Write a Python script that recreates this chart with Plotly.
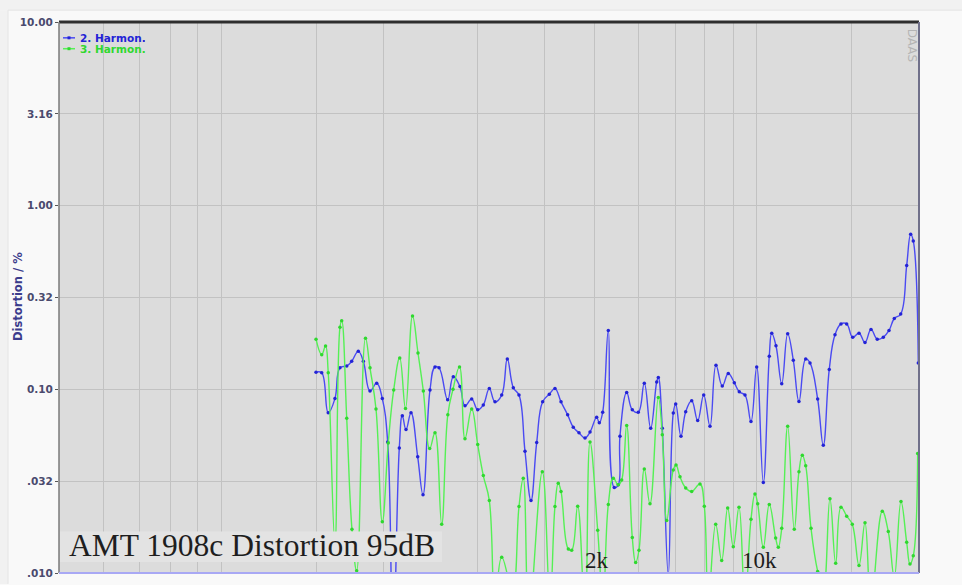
import plotly.graph_objects as go

# ---------------- data ----------------
# 2nd harmonic distortion (%), frequency in Hz
h2_freq = [127.5, 134.9, 143.9, 153.8, 161.6, 172.8, 181.5, 193.8, 203.7, 217.6,
           232.5, 245.8, 259.3, 273.3, 290.9, 299.7, 310.8, 326.6, 349, 367.9,
           394.2, 414.2, 431, 469.7, 496.5, 530.5, 557.5, 595.7, 632.3, 668.3,
           709.3, 750.5, 802, 847.7, 899.5, 951.7, 1010, 1072, 1134, 1203,
           1285, 1359, 1443, 1541, 1629, 1724, 1830, 1923, 2054, 2108,
           2180, 2305, 2445, 2544, 2587, 2765, 2923, 3101, 3292, 3507,
           3722, 3782, 3934, 4175, 4387, 4493, 4734, 4961, 5264, 5586,
           5929, 6310, 6696, 7125, 7563, 8027, 8433, 8925, 9469, 10020,
           10700, 11350, 11630, 12130, 12840, 13620, 14400, 15230, 16280, 16990,
           18330, 19380, 20560, 21760, 23090, 24430, 25930, 27600, 29290, 31090,
           33080, 35110, 37150, 39150, 41720, 44260, 46050, 47250, 49660]
h2_vals = [0.124, 0.123, 0.0746, 0.0891, 0.131, 0.134, 0.142, 0.161, 0.142, 0.098,
           0.108, 0.0891, 0.0516, 0.004, 0.048, 0.0719, 0.0604, 0.0746, 0.0429, 0.0267,
           0.0993, 0.1325, 0.131, 0.0877, 0.117, 0.1035, 0.0814, 0.0885, 0.0774, 0.0821,
           0.1009, 0.0855, 0.093, 0.1463, 0.1021, 0.093, 0.046, 0.0248, 0.0513, 0.0855,
           0.0941, 0.1009, 0.0855, 0.0726, 0.0622, 0.058, 0.0543, 0.0585, 0.0704, 0.0657,
           0.075, 0.209, 0.0292, 0.0302, 0.0556, 0.096, 0.0774, 0.075, 0.108, 0.0614,
           0.1096, 0.116, 0.0614, 0.0098, 0.0743, 0.0832, 0.0556, 0.0756, 0.0867, 0.0676,
           0.093, 0.063, 0.1353, 0.1043, 0.122, 0.1087, 0.0969, 0.093, 0.0668, 0.1325,
           0.0311, 0.1514, 0.202, 0.1727, 0.1074, 0.2005, 0.144, 0.0859, 0.1463, 0.1393,
           0.0885, 0.0496, 0.1284, 0.198, 0.227, 0.227, 0.192, 0.202, 0.180, 0.212,
           0.1875, 0.192, 0.209, 0.243, 0.257, 0.472, 0.698, 0.643, 0.1393]

# 3rd harmonic distortion (%), frequency in Hz
h3_freq = [127.5, 134.9, 140.1, 143.9, 153.8, 161.6, 164.4, 172.8, 182, 190.7,
           208.1, 217.6, 230.9, 245.8, 260.8, 275.2, 292.1, 309.3, 331.5, 350,
           369, 393, 414.2, 442.6, 470.2, 495, 528, 557.5, 595.7, 632.3,
           668.3, 709.3, 750.5, 802, 892.5, 951.7, 993, 1051, 1199, 1294,
           1359, 1404, 1443, 1551, 1604, 1702, 1830, 1923, 2075, 2187,
           2305, 2422, 2544, 2631, 2765, 2923, 3022, 3123, 3292, 3483,
           3782, 3934, 4110, 4387, 4507, 4688, 4961, 5264, 5715, 5964,
           6205, 6676, 7085, 7518, 7947, 8410, 8925, 9469, 9851, 10120,
           10700, 11350, 12090, 12410, 12840, 13620, 14540, 15230, 15740, 16280,
           17160, 18330, 19380, 20700, 21910, 23090, 24430, 25820, 27600, 29290,
           31090, 34760, 36890, 39150, 41830, 44260, 45730, 47250, 49340]
h3_vals = [0.1875, 0.1545, 0.1723, 0.123, 0.0144, 0.2178, 0.2365, 0.0695, 0.0173, 0.0103,
           0.19, 0.131, 0.0781, 0.019, 0.0511, 0.0993, 0.148, 0.0787, 0.2506, 0.1577,
           0.098, 0.0476, 0.058, 0.0184, 0.0726, 0.1, 0.1325, 0.0539, 0.0781, 0.05,
           0.0339, 0.0248, 0.007, 0.0122, 0.008, 0.023, 0.0328, 0.006, 0.0356, 0.007,
           0.023, 0.0308, 0.0278, 0.0135, 0.0133, 0.0231, 0.006, 0.0516, 0.0171, 0.007,
           0.0236, 0.0328, 0.0302, 0.0321, 0.0635, 0.0156, 0.0114, 0.0133, 0.0368, 0.0238,
           0.0902, 0.0566, 0.0193, 0.0364, 0.0387, 0.0334, 0.029, 0.0278, 0.0305, 0.0231,
           0.007, 0.0184, 0.0117, 0.0226, 0.0139, 0.0228, 0.007, 0.0196, 0.0269, 0.0238,
           0.0138, 0.0236, 0.0155, 0.0138, 0.0175, 0.063, 0.0173, 0.0356, 0.0438, 0.0384,
           0.0175, 0.0102, 0.008, 0.0254, 0.0113, 0.0228, 0.0204, 0.0184, 0.011, 0.0188,
           0.007, 0.0217, 0.0168, 0.0095, 0.0245, 0.0147, 0.0112, 0.0124, 0.0448]

y_tick_vals = [10, 3.16, 1.0, 0.316, 0.1, 0.0316, 0.01]
y_tick_text = ["10.00", "3.16", "1.00", "0.32", "0.10", ".032", ".010"]
x_grid_freqs = [15.6, 22.3, 30.3, 39.6, 50.2, 127.5, 247.5, 634, 1231, 2020,
                3093, 4462, 6005, 8003, 10050, 25500]
series_names = ["2. Harmon.", "3. Harmon."]
title_text = "AMT 1908c Distortion 95dB"
freq_labels = ["2k", "10k"]

BLUE_LINE, BLUE_MK = "#4a4af2", "#2323d6"
GREEN_LINE, GREEN_MK = "#55f055", "#2fd82f"

fig = go.Figure()
fig.add_trace(go.Scatter(
    x=h2_freq, y=h2_vals, mode="lines+markers", name=series_names[0],
    line=dict(color=BLUE_LINE, width=1.4, shape="spline", smoothing=1.2),
    marker=dict(color=BLUE_MK, size=3.5), showlegend=False))
fig.add_trace(go.Scatter(
    x=h3_freq, y=h3_vals, mode="lines+markers", name=series_names[1],
    line=dict(color=GREEN_LINE, width=1.4, shape="spline", smoothing=1.2),
    marker=dict(color=GREEN_MK, size=3.5), showlegend=False))

W, H = 962, 585
L, R, T, B = 59, 43, 22, 6
PW, PH = W - L - R, H - T - B

def dx(px):
    return (px - L) / PW

def dy(py):
    return 1 - (py - T) / PH

shapes = []
annotations = []

# outer page strips (outside plot area) and panel border
shapes.append(dict(type="rect", xref="paper", yref="paper", layer="below",
                   x0=dx(-5), x1=dx(W + 5), y0=dy(10), y1=dy(-5),
                   fillcolor="#f1f1f1", line=dict(width=0)))
shapes.append(dict(type="rect", xref="paper", yref="paper", layer="below",
                   x0=dx(-5), x1=dx(8), y0=dy(H + 5), y1=dy(10),
                   fillcolor="#f1f1f1", line=dict(width=0)))
shapes.append(dict(type="line", xref="paper", yref="paper", layer="below",
                   x0=dx(8), x1=dx(W + 5), y0=dy(10), y1=dy(10),
                   line=dict(color="#e4e4e4", width=1)))
shapes.append(dict(type="line", xref="paper", yref="paper", layer="below",
                   x0=dx(8), x1=dx(8), y0=dy(H + 5), y1=dy(10),
                   line=dict(color="#e4e4e4", width=1)))

# frame lines
shapes.append(dict(type="line", xref="paper", yref="paper", x0=0, x1=1, y0=1, y1=1,
                   line=dict(color="#2e2e2e", width=3)))
shapes.append(dict(type="line", xref="paper", yref="paper", x0=1, x1=1, y0=0, y1=1,
                   line=dict(color="#70708a", width=2)))
shapes.append(dict(type="line", xref="paper", yref="paper", x0=0, x1=0, y0=0, y1=1,
                   line=dict(color="#7a7a7a", width=1.5)))
shapes.append(dict(type="line", xref="paper", yref="paper", x0=0, x1=1, y0=0, y1=0,
                   line=dict(color="#a8a8f4", width=2)))

# title box
shapes.append(dict(type="rect", xref="paper", yref="paper", layer="above",
                   x0=dx(60), x1=dx(442), y0=dy(568), y1=dy(537),
                   fillcolor="#e3e3e3", line=dict(width=0)))

# legend (custom)
for i, (nm, lc, mc) in enumerate(zip(series_names, [BLUE_LINE, GREEN_LINE], [BLUE_MK, GREEN_MK])):
    yy = 38 + i * 11
    shapes.append(dict(type="line", xref="paper", yref="paper",
                       x0=dx(63), x1=dx(75), y0=dy(yy), y1=dy(yy),
                       line=dict(color=lc, width=1.5)))
    shapes.append(dict(type="rect", xref="paper", yref="paper",
                       x0=dx(67.5), x1=dx(70.5), y0=dy(yy + 1.5), y1=dy(yy - 1.5),
                       fillcolor=mc, line=dict(width=0)))
    annotations.append(dict(text="<b>" + nm + "</b>", xref="paper", yref="paper",
                            x=dx(79), y=dy(yy), height=10, borderpad=0,
                            xanchor="left", yanchor="middle", showarrow=False,
                            font=dict(family="DejaVu Sans", size=10.5, color=mc)))

annotations.append(dict(text=title_text, xref="paper", yref="paper",
                        x=dx(252), y=dy(551), xanchor="center", yanchor="middle",
                        showarrow=False,
                        font=dict(family="Liberation Serif", size=31.5, color="#1e1e1e")))
for lab, px in zip(freq_labels, [597, 759.5]):
    annotations.append(dict(text=lab, xref="paper", yref="paper",
                            x=dx(px), y=dy(566), xanchor="center", yanchor="middle",
                            showarrow=False,
                            font=dict(family="Liberation Serif", size=23, color="#1e1e1e")))

annotations.append(dict(text="DAAS", xref="paper", yref="paper", x=dx(912), y=dy(45),
                        xanchor="center", yanchor="middle", textangle=90, showarrow=False,
                        font=dict(family="DejaVu Sans", size=12, color="#b4b4b4")))

annotations.append(dict(text="<b>Distortion / %</b>", xref="paper", yref="paper",
                        x=dx(18), y=dy(300), xanchor="center", yanchor="middle",
                        textangle=-90, showarrow=False,
                        font=dict(family="DejaVu Sans", size=11.5, color="#3c3c8c")))

fig.update_layout(
    width=W, height=H,
    margin=dict(l=L, r=R, t=T, b=B, pad=0),
    paper_bgcolor="#f9f9f9",
    plot_bgcolor="#dcdcdc",
    showlegend=False,
    shapes=shapes,
    annotations=annotations,
    xaxis=dict(type="log", range=[1, 4.699], tickvals=x_grid_freqs,
               showticklabels=False, ticks="", showgrid=True,
               gridcolor="#c2c2c2", gridwidth=1, zeroline=False, showline=False,
               fixedrange=True),
    yaxis=dict(type="log", range=[-2, 1], tickvals=y_tick_vals, ticktext=y_tick_text,
               ticks="outside", ticklen=3, tickcolor="#555555",
               tickfont=dict(family="DejaVu Sans", size=10.5, color="#4a4a6e", weight="bold"),
               showgrid=True, gridcolor="#c2c2c2", gridwidth=1,
               zeroline=False, showline=False, fixedrange=True),
)

fig.write_html(
    "out.html",
    config={"displayModeBar": False},
    post_script="document.body.style.margin='0';document.body.style.overflow='hidden';",
)
